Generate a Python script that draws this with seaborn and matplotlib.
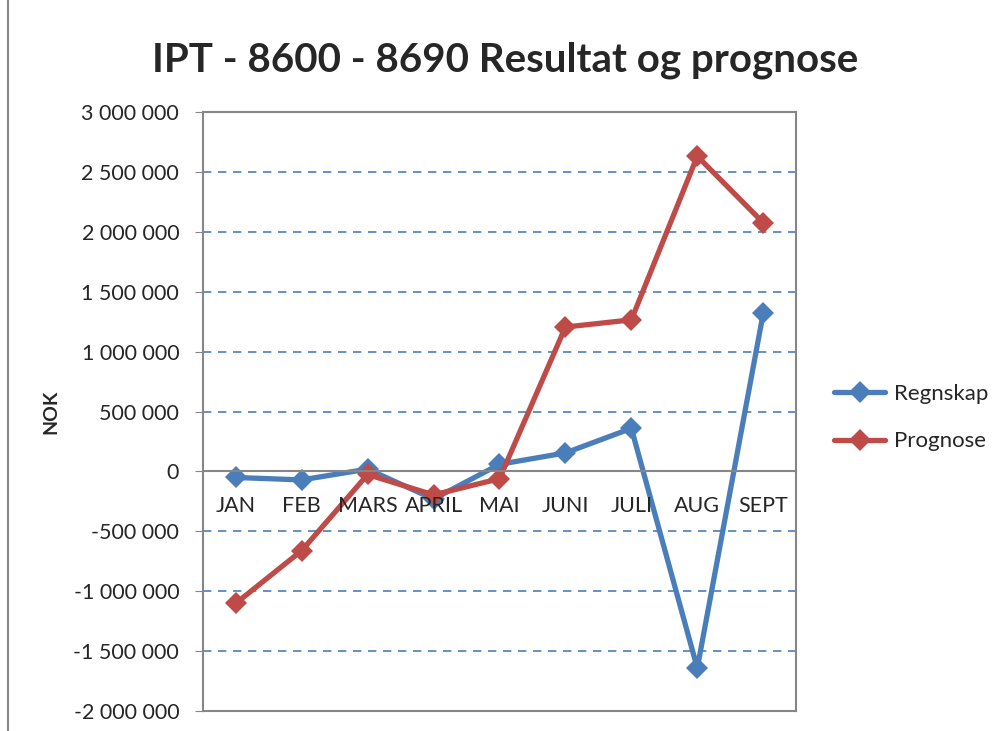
import pandas as pd
import matplotlib.pyplot as plt
import matplotlib.ticker as mticker
import seaborn as sns

# Data
months = ['JAN', 'FEB', 'MARS', 'APRIL', 'MAI', 'JUNI', 'JULI', 'AUG', 'SEPT']
regnskap = [-50000, -70000, 20000, -230000, 60000, 155000, 360000, -1640000, 1320000]
prognose = [-1100000, -660000, -25000, -195000, -60000, 1205000, 1265000, 2630000, 2075000]

df = pd.DataFrame({
    'idx': list(range(len(months))) * 2,
    'NOK': regnskap + prognose,
    'serie': ['Regnskap'] * len(months) + ['Prognose'] * len(months),
})

sns.set_style('white')
plt.rcParams['font.family'] = ['Lato', 'DejaVu Sans']

fig = plt.figure(figsize=(9.94, 7.31), dpi=100)
ax = fig.add_axes([0.204, 0.027, 0.597, 0.820])

palette = {'Regnskap': '#4A7EBB', 'Prognose': '#BE4B48'}
sns.lineplot(data=df, x='idx', y='NOK', hue='serie', palette=palette,
             style='serie', markers={'Regnskap': 'D', 'Prognose': 'D'}, dashes=False,
             linewidth=3.8, markersize=11, markeredgewidth=0, ax=ax)

ax.set_xlim(-0.5, len(months) - 0.5)
ax.set_ylim(-2000000, 3000000)
ax.yaxis.set_major_locator(mticker.MultipleLocator(500000))
ax.yaxis.set_major_formatter(mticker.FuncFormatter(lambda v, p: f'{int(v):,}'.replace(',', ' ')))
ax.tick_params(axis='y', labelsize=15.5, length=6, color='#868686', direction='out', left=True, pad=11)
ax.grid(axis='y', color='#4A7EBB', linestyle=(0, (5, 4)), linewidth=1.2)
ax.set_axisbelow(True)
for s in ax.spines.values():
    s.set_color('#868686')
    s.set_linewidth(1.5)

# category axis crossing at zero
ax.set_xticks([])
ax.set_xlabel('')
sec = ax.secondary_xaxis(0.4)
sec.set_xticks(range(len(months)))
sec.set_xticklabels(months)
sec.tick_params(length=0, labelsize=15.5, pad=18)
sec.spines['bottom'].set_color('#868686')
sec.spines['bottom'].set_linewidth(1.5)
sec.set_zorder(10)

ax.set_ylabel('NOK', fontsize=14, fontweight='bold', labelpad=10)

fig.suptitle('IPT - 8600 - 8690 Resultat og prognose', fontsize=29, fontweight='bold',
             x=0.508, y=0.943)

leg = ax.legend(loc='center left', bbox_to_anchor=(1.03, 0.49), frameon=False,
                fontsize=16, handlelength=2.3, labelspacing=1.25, handletextpad=0.4)

# chart frame edge on the left
fig.add_artist(plt.Line2D([0.008, 0.008], [0, 1], color='#868686', linewidth=1.5,
                          transform=fig.transFigure))

fig.savefig('out.png', dpi=100)
